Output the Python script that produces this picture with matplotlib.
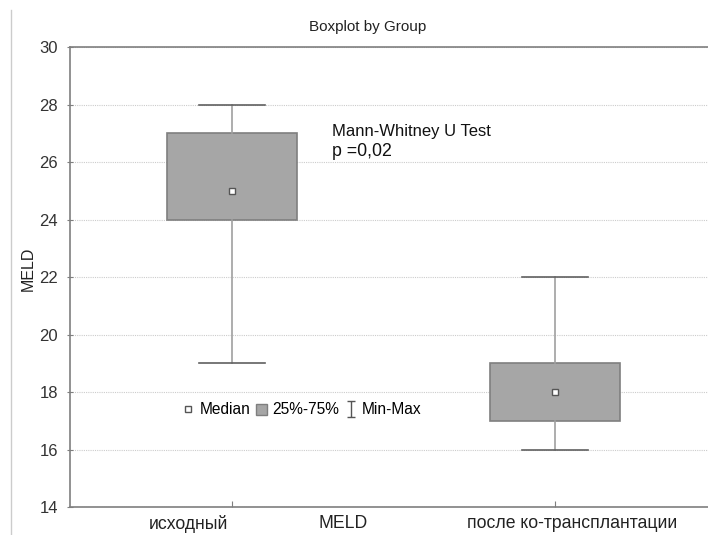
import matplotlib
matplotlib.use("Agg")
import matplotlib.pyplot as plt
from matplotlib.lines import Line2D
from matplotlib.patches import Patch
from matplotlib.path import Path
import matplotlib.transforms as mtransforms

plt.rcParams['font.family'] = ['Liberation Sans', 'DejaVu Sans']

groups = ['исходный', 'после ко-трансплантации']
mins = [19, 16]
q1 = [24, 17]
medians = [25, 18]
q3 = [27, 19]
maxs = [28, 22]

stats = []
for i, g in enumerate(groups):
    stats.append({'label': g, 'whislo': mins[i], 'q1': q1[i], 'med': medians[i],
                  'q3': q3[i], 'whishi': maxs[i]})

fig = plt.figure(figsize=(7.08, 5.35), dpi=100)
ax = fig.add_axes([70 / 708, 28 / 535, 638 / 708, 460 / 535])

edge = '#7f7f7f'
ax.bxp(stats, positions=[0, 1], widths=0.402, showfliers=False, patch_artist=True,
       boxprops=dict(facecolor='#a6a6a6', edgecolor=edge, linewidth=1.2),
       whiskerprops=dict(color='#a0a0a0', linewidth=1.2),
       capprops=dict(color='#606060', linewidth=1.2), capwidths=0.205,
       medianprops=dict(linestyle='none'), zorder=3)
ax.plot([0, 1], medians, linestyle='none', marker='s', markersize=5,
        markerfacecolor='white', markeredgecolor='#555555', zorder=4)

ax.set_xlim(-0.5015, 1.474)
ax.set_ylim(14, 30)
ax.set_yticks(range(14, 31, 2))
ax.set_xticks([0, 1])
ax.set_xticklabels([])
ax.tick_params(axis='x', direction='in', length=4, color=edge)
ax.tick_params(axis='y', direction='inout', length=5, color=edge, labelsize=12,
               labelcolor='#333333', pad=6)
ax.yaxis.grid(True, linestyle=(0, (1, 1)), color='#cccccc', linewidth=0.8)
ax.set_axisbelow(True)
for s in ['left', 'bottom', 'top']:
    ax.spines[s].set_color(edge)
    ax.spines[s].set_linewidth(1.2)
ax.spines['right'].set_visible(False)

# category labels sit a little left of their boxes
trans = mtransforms.blended_transform_factory(ax.transData, fig.transFigure)
label_x = [-0.136, 1.053]
for lx, g in zip(label_x, groups):
    ax.text(lx, 1 - 524 / 535, g, transform=trans, ha='center', va='center',
            fontsize=12.7, color='#222222')

fig.text(28 / 708, 1 - 269 / 535, 'MELD', rotation=90, ha='center', va='center',
         fontsize=11.5, color='#222222')
fig.text(368 / 708, 1 - 27 / 535, 'Boxplot by Group', ha='center', va='center',
         fontsize=11, color='#222222')
fig.text(343 / 708, 1 - 524 / 535, 'MELD', ha='center', va='center',
         fontsize=12.7, color='#222222')

ax.text(0.31, 27.06, 'Mann-Whitney U Test', fontsize=12, va='center', color='#111111')
ax.text(0.31, 26.36, 'p =0,02', fontsize=12.8, va='center', color='#111111')

cap_path = Path([(-0.5, 1), (0.5, 1), (0, 1), (0, -1), (-0.5, -1), (0.5, -1)],
                [Path.MOVETO, Path.LINETO, Path.MOVETO, Path.LINETO, Path.MOVETO, Path.LINETO])
handles = [
    Line2D([], [], linestyle='none', marker='s', markersize=5,
           markerfacecolor='white', markeredgecolor='#555555'),
    Patch(facecolor='#a6a6a6', edgecolor=edge),
    Line2D([], [], linestyle='none', marker=cap_path, markersize=12,
           markerfacecolor='none', markeredgecolor='#555555', markeredgewidth=1),
]
ax.legend(handles, ['Median', '25%-75%', 'Min-Max'], ncol=3, frameon=False,
          loc='center', bbox_to_anchor=(302 / 708, 1 - 410 / 535),
          bbox_transform=fig.transFigure,
          fontsize=11.2, handlelength=0.7, handletextpad=0.4, columnspacing=0.35)

fig.add_artist(Line2D([11 / 708, 11 / 708], [0, 1 - 10 / 535], color='#cccccc', linewidth=1))

fig.savefig('out.png', dpi=100)
